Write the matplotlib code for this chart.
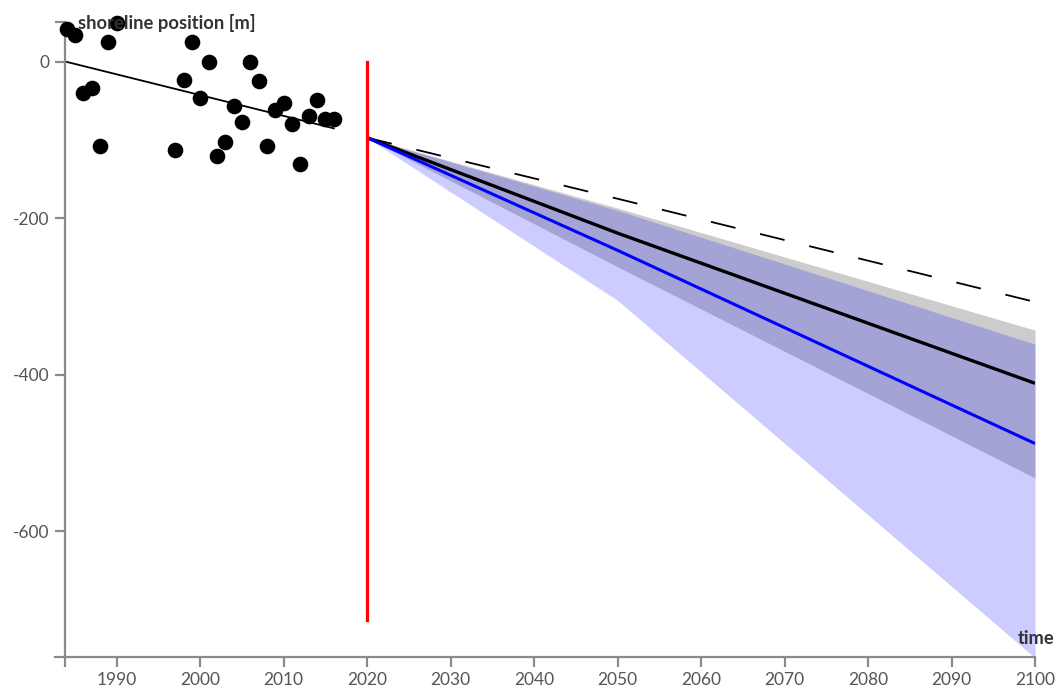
import numpy as np
import matplotlib
matplotlib.use('Agg')
import matplotlib.pyplot as plt

plt.rcParams['font.family'] = ['Lato', 'DejaVu Sans']

# observed shoreline positions
obs_years = [1984, 1985, 1990, 1989, 1986, 1987, 1988, 1999, 1998, 1997, 2001, 2000,
             2002, 2003, 2004, 2005, 2006, 2007, 2008, 2009, 2010, 2011, 2012, 2013,
             2014, 2015, 2016]
obs_pos = [42, 35, 50, 26, -40, -33, -108, 25, -23, -113, 0, -46,
           -120, -103, -56, -77, 0, -24, -108, -61, -53, -79, -130, -69,
           -49, -73, -73]

# linear trend over the observation period
trend_years = [1984, 2016]
trend_pos = [0, -85]

# projections
proj_years = [2020, 2050, 2100]
dashed_pos = [-97, -175, -307]
black_pos = [-97, -219, -411]
black_lo = [-97, -262, -532]
black_hi = [-97, -187, -343]
blue_pos = [-97, -241, -488]
blue_lo = [-97, -305, -762]
blue_hi = [-97, -190, -361]

present_year = 2020
present_span = [0, -714]

xticks = [1990, 2000, 2010, 2020, 2030, 2040, 2050, 2060, 2070, 2080, 2090, 2100]
yticks = [0, -200, -400, -600]
xlim = (1983.8, 2100)
ylim = (-761, 51)

fig = plt.figure(figsize=(10.57, 6.88), dpi=100)
ax = fig.add_axes([65 / 1057, 31 / 688, 970 / 1057, 635 / 688])

ax.fill_between(proj_years, black_lo, black_hi, color='#cccccc', lw=0)
ax.fill_between(proj_years, blue_lo, blue_hi, color='#0000ff', alpha=0.2, lw=0)

ax.plot(proj_years, dashed_pos, color='black', lw=1.3, linestyle=(0, (14, 14)))
ax.plot(proj_years, black_pos, color='black', lw=2.4, solid_capstyle='butt')
ax.plot(proj_years, blue_pos, color='#0000ff', lw=2.2, solid_capstyle='butt')

ax.plot(trend_years, trend_pos, color='black', lw=1.3)
ax.scatter(obs_years, obs_pos, s=105, color='black', zorder=5, clip_on=False)

ax.plot([present_year, present_year], present_span, color='red', lw=2.3)

ax.set_xlim(*xlim)
ax.set_ylim(*ylim)

for side in ['top', 'right']:
    ax.spines[side].set_visible(False)
for side in ['left', 'bottom']:
    ax.spines[side].set_color('#8a8a8a')
    ax.spines[side].set_linewidth(1.6)
ax.spines['bottom'].set_bounds(xlim[0] - 1.2, xlim[1])
ax.spines['bottom'].set_position(('data', ylim[0]))

ax.set_xticks(xticks)
ax.set_xticklabels([str(t) for t in xticks])
ax.set_yticks(yticks)
ax.set_yticklabels([str(t) for t in yticks])
ax.set_xticks([xlim[0]], minor=True)
ax.set_yticks([ylim[1]], minor=True)
ax.tick_params(which='both', direction='out', length=7, width=1.6, color='#8a8a8a',
               labelsize=12.5, labelcolor='#555555', pad=4)

fig.text(78 / 1057, 1 - 23 / 688, 'shoreline position [m]', fontsize=13.2,
         fontweight='bold', color='#333333', ha='left', va='center')
fig.text(1054 / 1057, 1 - 638 / 688, 'time', fontsize=13.2,
         fontweight='bold', color='#333333', ha='right', va='center')

fig.savefig('out.png', dpi=100)
